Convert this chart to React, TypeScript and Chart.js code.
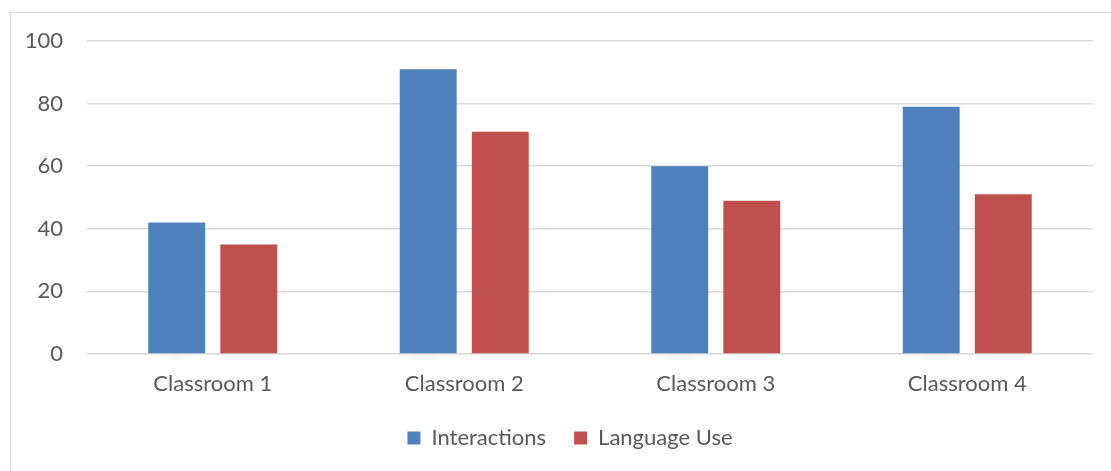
import React, { useEffect, useRef } from "react";
import { Chart, registerables } from "chart.js";

Chart.register(...registerables);

const categories = ["Classroom 1", "Classroom 2", "Classroom 3", "Classroom 4"];
const interactions = [42, 91, 60, 79];
const languageUse = [35, 71, 49, 51];
const yTicks = [0, 20, 40, 60, 80, 100];

const FONT = "Lato, 'Liberation Sans', sans-serif";
const TEXT = "#595959";

const legendShift = {
  id: "legendShift",
  afterLayout(chart: any) {
    const l = chart.legend;
    if (l) {
      l.left += 18;
      l.right += 18;
    }
  },
};

export default function App() {
  const ref = useRef<HTMLCanvasElement | null>(null);
  useEffect(() => {
    if (!ref.current) return;
    const chart = new Chart(ref.current, {
      type: "bar",
      data: {
        labels: categories,
        datasets: [
          {
            label: "Interactions",
            data: interactions,
            backgroundColor: "#4F81BD",
            categoryPercentage: 0.573,
            barPercentage: 0.79,
          },
          {
            label: "Language Use",
            data: languageUse,
            backgroundColor: "#C0504D",
            categoryPercentage: 0.573,
            barPercentage: 0.79,
          },
        ],
      },
      plugins: [legendShift],
      options: {
        animation: false,
        responsive: false,
        maintainAspectRatio: false,
        layout: { padding: { left: 0, right: 36, top: 28, bottom: 34 } },
        plugins: {
          tooltip: { enabled: false },
          legend: {
            position: "bottom",
            labels: {
              font: { family: FONT, size: 22 },
              color: TEXT,
              boxWidth: 13,
              boxHeight: 13,
              padding: 28,
            },
          },
        },
        scales: {
          x: {
            grid: { display: false, drawTicks: false },
            border: { display: false },
            ticks: { font: { family: FONT, size: 22 }, color: TEXT, padding: 17 },
            afterFit: (s: any) => {
              s.height = 45;
            },
          },
          y: {
            min: 0,
            max: 100,
            afterBuildTicks: (s: any) => {
              s.ticks = yTicks.map((v) => ({ value: v }));
            },
            grid: {
              color: "#d9d9d9",
              lineWidth: 1.5,
              drawTicks: true,
              tickLength: 24,
              tickColor: "rgba(0,0,0,0)",
            },
            border: { display: false },
            ticks: { font: { family: FONT, size: 22 }, color: TEXT, padding: 0 },
            afterFit: (s: any) => {
              s.width = 76;
            },
          },
        },
      },
    });
    return () => chart.destroy();
  }, []);
  return (
    <div style={{ position: "fixed", left: 0, top: 0, width: 1111, height: 471, overflow: "hidden", background: "#fff" }}>
      <div
        style={{
          position: "absolute",
          left: 10,
          top: 12,
          width: 1118,
          height: 480,
          border: "1px solid #d9d9d9",
        }}
      >
        <canvas ref={ref} width={1118} height={480} style={{ display: "block", width: 1118, height: 480 }} />
      </div>
    </div>
  );
}
